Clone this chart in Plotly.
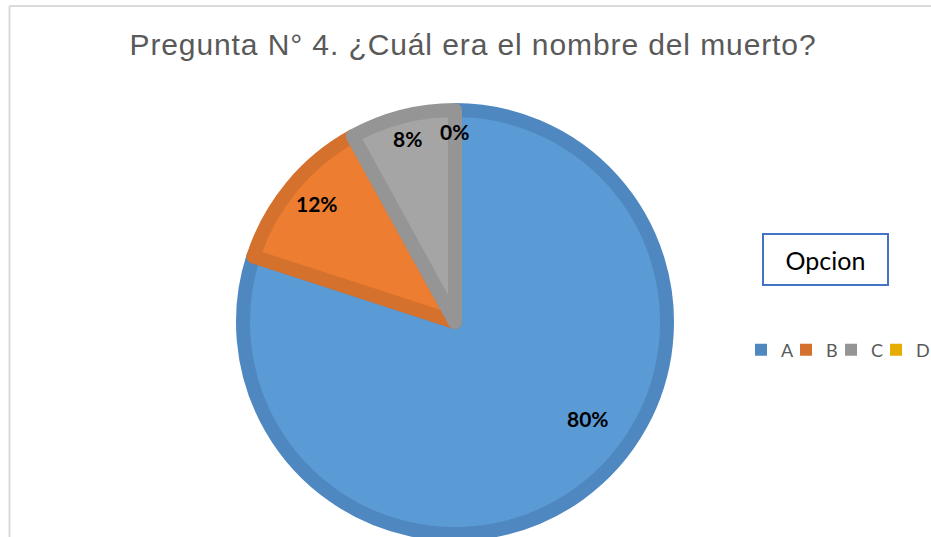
import math
import plotly.graph_objects as go

W, H = 931, 537

categories = ["A", "B", "C", "D"]
values = [80, 12, 8, 0]
fill_colors = ["#5B9BD5", "#ED7D31", "#A5A5A5", "#FFC000"]
edge_colors = ["#4F88C1", "#D4712D", "#959595", "#E6AD00"]
title_text = "Pregunta N° 4. ¿Cuál era el nombre del muerto?"
legend_title = "Opcion"

# label placement style (radius fraction, angular nudge in degrees)
label_radius = [0.75, 0.83, 0.866, 0.87]
label_nudge = [-18, 1, 0, 0]


def px_x(x):
    return x / W


def px_y(y):
    return 1 - y / H


cx, cy, R = 455, 322, 219
edge_w = 14
r = R - edge_w / 2

dom = dict(x=[px_x(cx - r), px_x(cx + r)], y=[px_y(cy + r), px_y(cy - r)])

# non-zero slices carry compact solid legend swatches (drawn under the main pie)
nz = [i for i, v in enumerate(values) if v > 0]

fig = go.Figure()
fig.add_trace(go.Pie(
    labels=[categories[i] for i in nz], values=[values[i] for i in nz],
    sort=False, direction="clockwise", rotation=0,
    marker=dict(colors=[edge_colors[i] for i in nz], line=dict(width=0)),
    textinfo="none", hoverinfo="skip", domain=dom, showlegend=True,
    legendwidth=0.01,
))
fig.add_trace(go.Pie(
    labels=categories, values=values, sort=False, direction="clockwise",
    rotation=0,
    marker=dict(colors=[f if v > 0 else e for f, e, v in zip(fill_colors, edge_colors, values)],
                line=dict(color=edge_colors,
                          width=[edge_w if v > 0 else 0 for v in values])),
    textinfo="none", hoverinfo="label+percent", domain=dom, showlegend=True,
))

# percentage labels, placed from the data's cumulative angles
total = sum(values)
annotations = []
cum = 0
for cat, v, rho, nudge in zip(categories, values, label_radius, label_nudge):
    mid = (cum + v / 2) / total
    cum += v
    theta = math.radians(360 * mid + nudge)
    lx = cx + rho * R * math.sin(theta)
    ly = cy - rho * R * math.cos(theta)
    annotations.append(dict(
        text=f"{round(100 * v / total)}%", xref="paper", yref="paper",
        x=px_x(lx), y=px_y(ly), xanchor="center", yanchor="middle",
        showarrow=False,
        font=dict(family="Lato", size=21, color="#000000", weight="bold"),
    ))

annotations.append(dict(
    text=legend_title, xref="paper", yref="paper",
    x=px_x(825.5), y=px_y(259.5), xanchor="center", yanchor="middle",
    showarrow=False, width=119, height=45, borderpad=2,
    bordercolor="#4472C4", borderwidth=2,
    font=dict(family="Lato", size=25, color="#000000"),
))

fig.update_layout(
    width=W, height=H,
    margin=dict(l=0, r=0, t=0, b=0, autoexpand=False),
    paper_bgcolor="white",
    plot_bgcolor="white",
    title=dict(
        text=f'<span style="letter-spacing:0.9px">{title_text}</span>',
        x=px_x(473), xanchor="center",
        y=px_y(44), yanchor="middle",
        font=dict(family="Liberation Sans", size=30, color="#595959"),
    ),
    showlegend=True,
    legend=dict(
        orientation="h",
        x=px_x(741), xanchor="left",
        y=px_y(350), yanchor="middle",
        font=dict(family="Lato", size=18, color="#595959"),
        itemwidth=30,
        bgcolor="rgba(0,0,0,0)",
    ),
    shapes=[
        dict(type="line", xref="paper", yref="paper",
             x0=px_x(9.5), x1=px_x(9.5), y0=px_y(6), y1=px_y(H + 20),
             line=dict(color="#D9D9D9", width=2)),
        dict(type="line", xref="paper", yref="paper",
             x0=px_x(9.5), x1=px_x(W + 20), y0=px_y(6), y1=px_y(6),
             line=dict(color="#D9D9D9", width=2)),
    ],
    annotations=annotations,
)

fig.write_html(
    "out.html",
    config={"displayModeBar": False},
    post_script="document.body.style.margin='0';document.body.style.overflow='hidden';",
)
